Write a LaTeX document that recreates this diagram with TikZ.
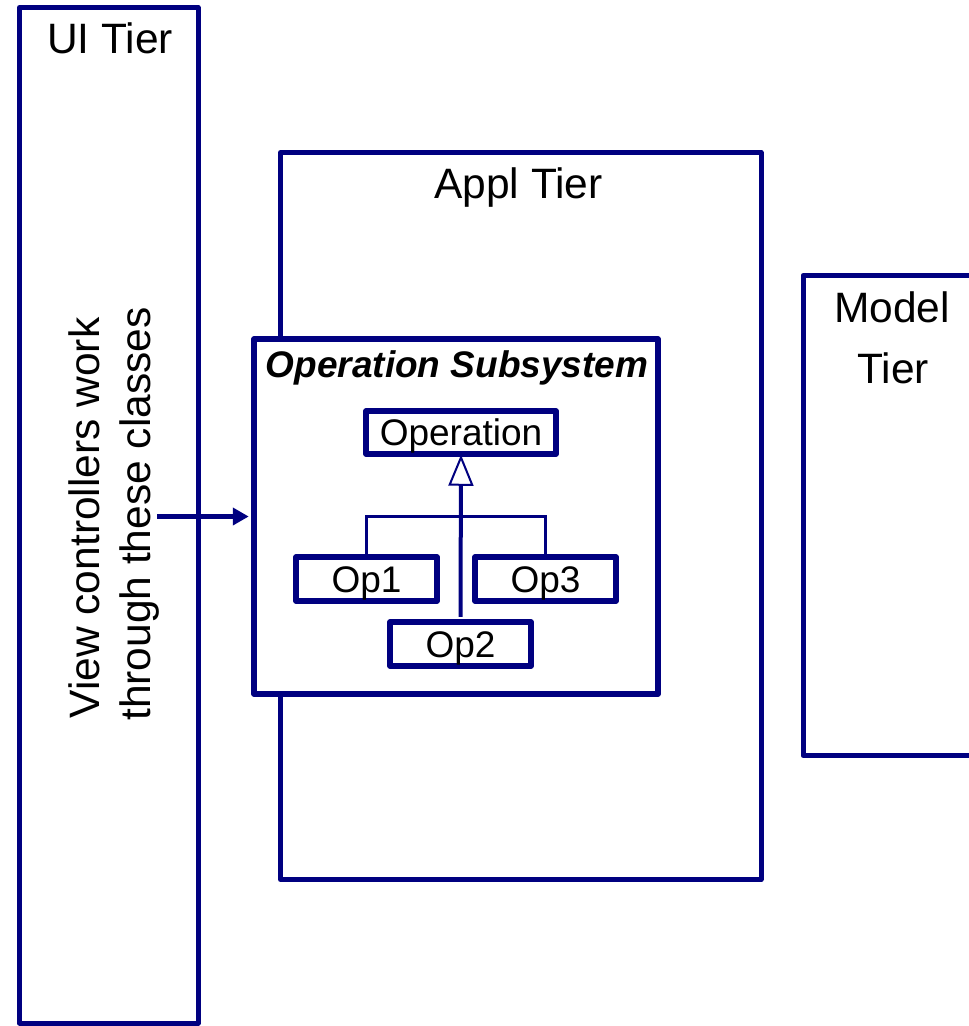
\documentclass[tikz,border=0pt]{standalone}
\usepackage{fontspec}
\setmainfont{Liberation Sans}
\usetikzlibrary{arrows.meta}
\definecolor{tierblue}{RGB}{0,0,128}
\begin{document}
\begin{tikzpicture}[x=1pt,y=-1pt,
  tierbox/.style={draw=tierblue, line width=5pt, fill=white, line join=round,
    rectangle, inner sep=0pt},
  classbox/.style={draw=tierblue, line width=5.5pt, fill=white, line join=round,
    rectangle, inner sep=0pt, text height=26.5pt, text depth=0pt,
    font=\fontsize{37}{42}\selectfont},
  title/.style={anchor=base, inner sep=0pt, font=\fontsize{42.5}{50}\selectfont},
  subtitle/.style={anchor=base, inner sep=0pt,
    font=\fontsize{37}{42}\selectfont\bfseries\itshape},
  gen/.style={draw=tierblue, line width=4pt,
    -{Triangle[open, length=31pt, width=25pt, line width=2pt, fill=white]}},
  branch/.style={draw=tierblue, line width=3.5pt},
  uses/.style={draw=tierblue, line width=5pt, -{Triangle[length=16pt, width=17pt]}}
]
\clip (0,0) rectangle (969,1026);

% tiers
\node[tierbox, minimum width=178.5pt, minimum height=1015.5pt] (ui) at (108.75,515.25) {};
\node[tierbox, minimum width=480.5pt, minimum height=727pt] (appl) at (520.75,516) {};
\node[tierbox, minimum width=178pt, minimum height=480pt] (model) at (892,515.5) {};

\node[title] (uilabel) at (110,53) {UI Tier};
\node[title] (appllabel) at (518.5,198) {Appl Tier};
\node[title] (modellabel) at (892,322) {Model};
\node[title] (modellabel2) at (893,383) {Tier};

% rotated note in the UI tier
\node[title, rotate=90] (note1) at (99,518) {View controllers work};
\node[title, rotate=90] (note2) at (150,514) {through these classes};

% operation subsystem
\node[tierbox, line width=5.5pt, minimum width=404pt, minimum height=355pt] (sub) at (456,516.5) {};
\node[subtitle] (sublabel) at (457,377) {Operation Subsystem};

% classes
\node[classbox, minimum width=190pt, minimum height=43pt] (operation) at (461,432.5) {Operation};
\node[classbox, minimum width=141pt, minimum height=44pt] (op1) at (366.5,579) {Op1};
\node[classbox, minimum width=141pt, minimum height=44pt] (op3) at (545.5,579) {Op3};
\node[classbox, minimum width=141pt, minimum height=44pt] (op2) at (460.5,644) {Op2};

% generalization
\draw[branch] (op1.north) -- ++(0,-38) -| (op3.north);
\draw[gen] ([yshift=2.5pt]op2.north) -- ([yshift=2pt]operation.south);

% usage arrow from the UI tier
\coordinate (notearrow) at (157,516.5);
\draw[uses] (notearrow) -- ([xshift=-2.5pt]sub.west);
\end{tikzpicture}
\end{document}
